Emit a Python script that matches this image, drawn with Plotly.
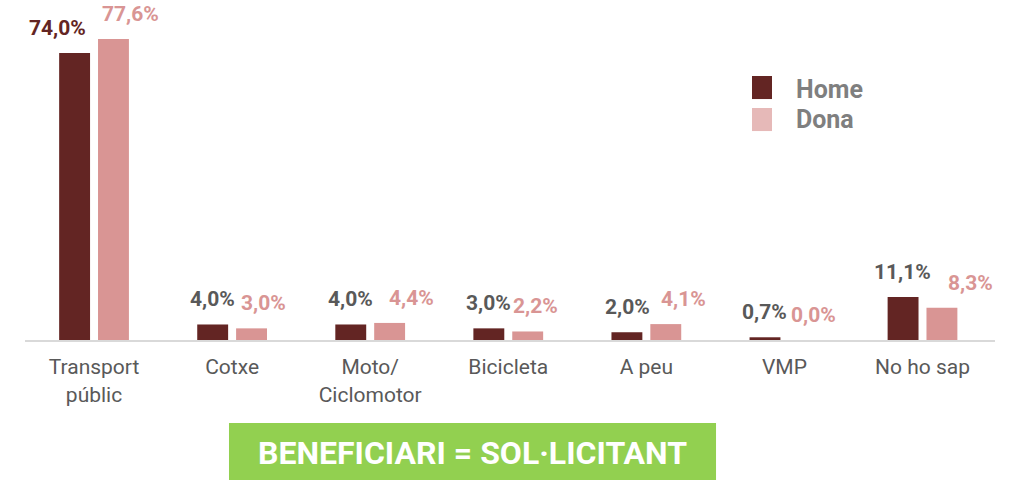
import plotly.graph_objects as go

# Mode of transport, split by sex (percentages)
categories = ["Transport<br>públic", "Cotxe", "Moto/<br>Ciclomotor", "Bicicleta",
              "A peu", "VMP", "No ho sap"]
home = [74.0, 4.0, 4.0, 3.0, 2.0, 0.7, 11.1]
dona = [77.6, 3.0, 4.4, 2.2, 4.1, 0.0, 8.3]

home_labels = ["74,0%", "4,0%", "4,0%", "3,0%", "2,0%", "0,7%", "11,1%"]
dona_labels = ["77,6%", "3,0%", "4,4%", "2,2%", "4,1%", "0,0%", "8,3%"]

# horizontal placement of the value labels (pixels from category centre)
home_dx = [-37, -20, -20, -20, -19, -20, -20]
dona_dx = [36, 31, 41, 27, 37, 29, 48]

C_HOME = "#632523"
C_DONA = "#D99594"
C_DONA_KEY = "#E6B9B8"
C_GREY = "#595959"
FONT = "Roboto"

fig = go.Figure()
fig.add_bar(x=categories, y=home, name="Home", marker=dict(color=C_HOME, line_width=0),
            showlegend=False, hoverinfo="skip")
fig.add_bar(x=categories, y=dona, name="Dona", marker=dict(color=C_DONA, line_width=0),
            showlegend=False, hoverinfo="skip")

annotations = []
for i, cat in enumerate(categories):
    annotations.append(dict(
        x=cat, y=home[i], xref="x", yref="y", text=f"<b>{home_labels[i]}</b>",
        showarrow=False, xanchor="center", yanchor="middle",
        xshift=home_dx[i], yshift=25,
        font=dict(family=FONT, size=21, color=C_HOME if i == 0 else C_GREY)))
    annotations.append(dict(
        x=cat, y=dona[i], xref="x", yref="y", text=f"<b>{dona_labels[i]}</b>",
        showarrow=False, xanchor="center", yanchor="middle",
        xshift=dona_dx[i], yshift=25,
        font=dict(family=FONT, size=21, color=C_DONA)))

# legend key
annotations.append(dict(x=0.7925, y=0.784, xref="paper", yref="paper", text="<b>Home</b>",
                        showarrow=False, xanchor="left", yanchor="middle",
                        font=dict(family=FONT, size=25, color="#7F7F7F")))
annotations.append(dict(x=0.7925, y=0.688, xref="paper", yref="paper", text="<b>Dona</b>",
                        showarrow=False, xanchor="left", yanchor="middle",
                        font=dict(family=FONT, size=25, color="#7F7F7F")))

# banner
annotations.append(dict(x=0.4613, y=-0.352, xref="paper", yref="paper",
                        text="<b>BENEFICIARI = SOL·LICITANT</b>",
                        showarrow=False, xanchor="center", yanchor="middle",
                        font=dict(family=FONT, size=32, color="white")))

shapes = [
    dict(type="rect", xref="paper", yref="paper", x0=0.7495, x1=0.7701, y0=0.753, y1=0.825,
         fillcolor=C_HOME, line_width=0),
    dict(type="rect", xref="paper", yref="paper", x0=0.7495, x1=0.7701, y0=0.653, y1=0.725,
         fillcolor=C_DONA_KEY, line_width=0),
    dict(type="rect", xref="paper", yref="paper", x0=0.2103, x1=0.7124, y0=-0.45, y1=-0.259,
         fillcolor="#92D050", line_width=0, layer="below"),
]

fig.update_layout(
    width=1018, height=480,
    margin=dict(l=25, r=23, t=20, b=140),
    paper_bgcolor="white", plot_bgcolor="white",
    barmode="group", bargap=0.437, bargroupgap=0.205,
    annotations=annotations, shapes=shapes,
    font=dict(family=FONT),
)
fig.update_xaxes(showline=True, linecolor="#D9D9D9", linewidth=2, showgrid=False,
                 ticks="outside", ticklen=7, tickcolor="rgba(0,0,0,0)",
                 tickfont=dict(family=FONT, size=21, color=C_GREY), fixedrange=True)
fig.update_yaxes(range=[0, 82.5], visible=False, showgrid=False, zeroline=False, fixedrange=True)

fig.write_html("out.html", config={"displayModeBar": False})
